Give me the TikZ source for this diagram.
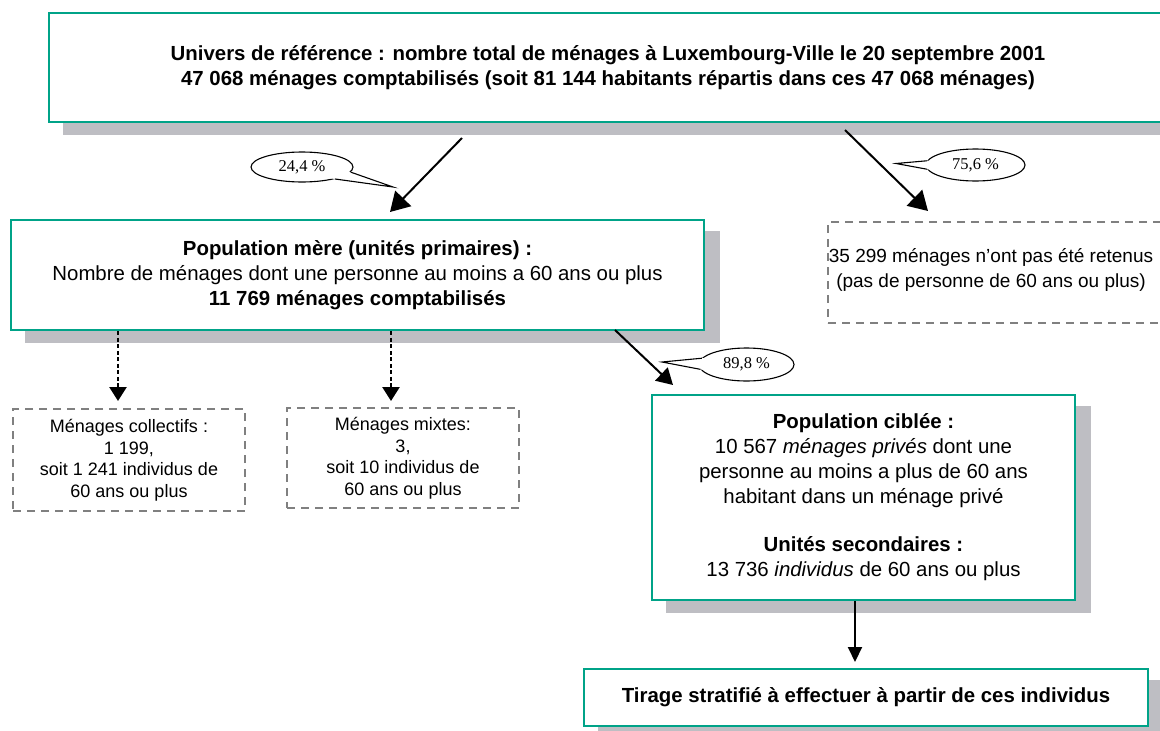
\documentclass[tikz,border=0pt]{standalone}
\usepackage{fontspec}
\setmainfont{Liberation Sans}
\newfontfamily\tms{Liberation Serif}
\usetikzlibrary{arrows.meta,backgrounds,shapes.geometric,calc}
\definecolor{boxgreen}{RGB}{0,163,136}
\definecolor{shadowgray}{RGB}{190,190,195}
\definecolor{dashgray}{RGB}{128,128,128}
\tikzset{
  mainbox/.style={draw=boxgreen, line width=2.5pt, fill=white, align=center, inner sep=0pt,
    font=\fontsize{20.4}{25}\selectfont},
  dashbox/.style={draw=dashgray, line width=2pt, dash pattern=on 8pt off 6pt, align=center,
    inner sep=0pt, font=\fontsize{18}{21.5}\selectfont},
  callout/.style={ellipse, draw=black, line width=1.1pt, fill=white, inner sep=0pt,
    font=\tms\fontsize{16.5}{18}\selectfont},
  bigarrow/.style={line width=2pt, -{Triangle[length=19pt,width=22pt]}},
  midarrow/.style={line width=2pt, -{Triangle[length=16pt,width=18pt]}},
  downarrow/.style={line width=2pt, -{Triangle[length=15pt,width=14pt]}},
  dotarrow/.style={line width=2.5pt, dash pattern=on 4pt off 2.5pt, -{Triangle[length=14pt,width=17pt]}},
  tail/.style={line width=1.1pt, line join=miter}
}
\begin{document}
\begin{tikzpicture}[x=1pt,y=-1pt]
\path[use as bounding box, clip] (0,0) rectangle (1160,731);

% main boxes
\node[mainbox, minimum width=1118pt, minimum height=109pt] (top) at (608,67.5)
  {\textbf{Univers de référence : nombre total de ménages à Luxembourg-Ville le 20 septembre 2001}\\
   \textbf{47 068 ménages comptabilisés (soit 81 144 habitants répartis dans ces 47 068 ménages)}};
\node[mainbox, minimum width=693pt, minimum height=110pt] (pm) at (357.5,275)
  {\textbf{Population mère (unités primaires) :}\\
   Nombre de ménages dont une personne au moins a 60 ans ou plus\\
   \textbf{11 769 ménages comptabilisés}};
\node[mainbox, minimum width=423pt, minimum height=205pt] (cib) at (863.5,497.5)
  {\textbf{Population ciblée :}\\
   10 567 \textit{ménages privés} dont une\\
   personne au moins a plus de 60 ans\\
   habitant dans un ménage privé\\[23pt]
   \textbf{Unités secondaires :}\\
   13 736 \textit{individus} de 60 ans ou plus};
\node[mainbox, minimum width=564pt, minimum height=57pt] (tir) at (866,697.5)
  {\textbf{Tirage stratifié à effectuer à partir de ces individus}};

% shadows
\begin{scope}[on background layer]
  \fill[white] (0,0) rectangle (1160,731);
  \foreach \n in {top,pm,cib,tir}
    \fill[shadowgray] ([shift={(15,12)}]\n.south west) rectangle ([shift={(15,12)}]\n.north east);
\end{scope}

% dashed boxes
\node[dashbox, minimum width=232pt, minimum height=102pt] (col) at (129,460)
  {Ménages collectifs :\\1 199,\\soit 1 241 individus de\\60 ans ou plus};
\node[dashbox, minimum width=232pt, minimum height=100pt] (mix) at (403,458)
  {Ménages mixtes:\\3,\\soit 10 individus de\\60 ans ou plus};
\node[dashbox, minimum width=347pt, minimum height=101pt] (rej) at (1001.5,272.5) {};
\node[align=center, inner sep=0pt, font=\fontsize{19}{25}\selectfont] (rejtxt) at (991,270)
  {35 299 ménages n'ont pas été retenus\\(pas de personne de 60 ans ou plus)};

% connectors
\coordinate (a1s) at (462,138);
\coordinate (a1e) at (390,212);
\coordinate (a2s) at (845,130);
\coordinate (a2e) at (928,211);
\coordinate (a3s) at (615,330);
\coordinate (a3e) at (673,385);
\coordinate (v1) at (855,662);
\coordinate (d1) at (118,401);
\coordinate (d2) at (391,401);
\draw[bigarrow] (a1s) -- (a1e);
\draw[bigarrow] (a2s) -- (a2e);
\draw[midarrow] (a3s) -- (a3e);
\draw[downarrow] (cib.south -| v1) -- (v1);
\draw[dotarrow] (pm.south -| d1) -- (d1);
\draw[dotarrow] (pm.south -| d2) -- (d2);

% callouts
\node[callout, minimum width=102pt, minimum height=30pt] (cA) at (302,167) {24,4 \%};
\coordinate (tA) at (393,187);
\fill[white] (tA) -- ($(tA)!1.12!(cA.-6)$) -- ($(tA)!1.12!(cA.-20)$) -- cycle;
\draw[tail] (cA.-6) -- (tA) -- (cA.-20);

\node[callout, minimum width=99pt, minimum height=32pt] (cB) at (975.5,165) {75,6 \%};
\coordinate (tB) at (896,163.5);
\fill[white] (tB) -- ($(tB)!1.15!(cB.175)$) -- ($(tB)!1.15!(cB.185)$) -- cycle;
\draw[tail] (cB.175) -- (tB) -- (cB.185);

\node[callout, minimum width=95pt, minimum height=33pt] (cC) at (746.5,364.5) {89,8 \%};
\coordinate (tC) at (662,362);
\fill[white] (tC) -- ($(tC)!1.15!(cC.172)$) -- ($(tC)!1.15!(cC.186)$) -- cycle;
\draw[tail] (cC.172) -- (tC) -- (cC.186);
\end{tikzpicture}
\end{document}
